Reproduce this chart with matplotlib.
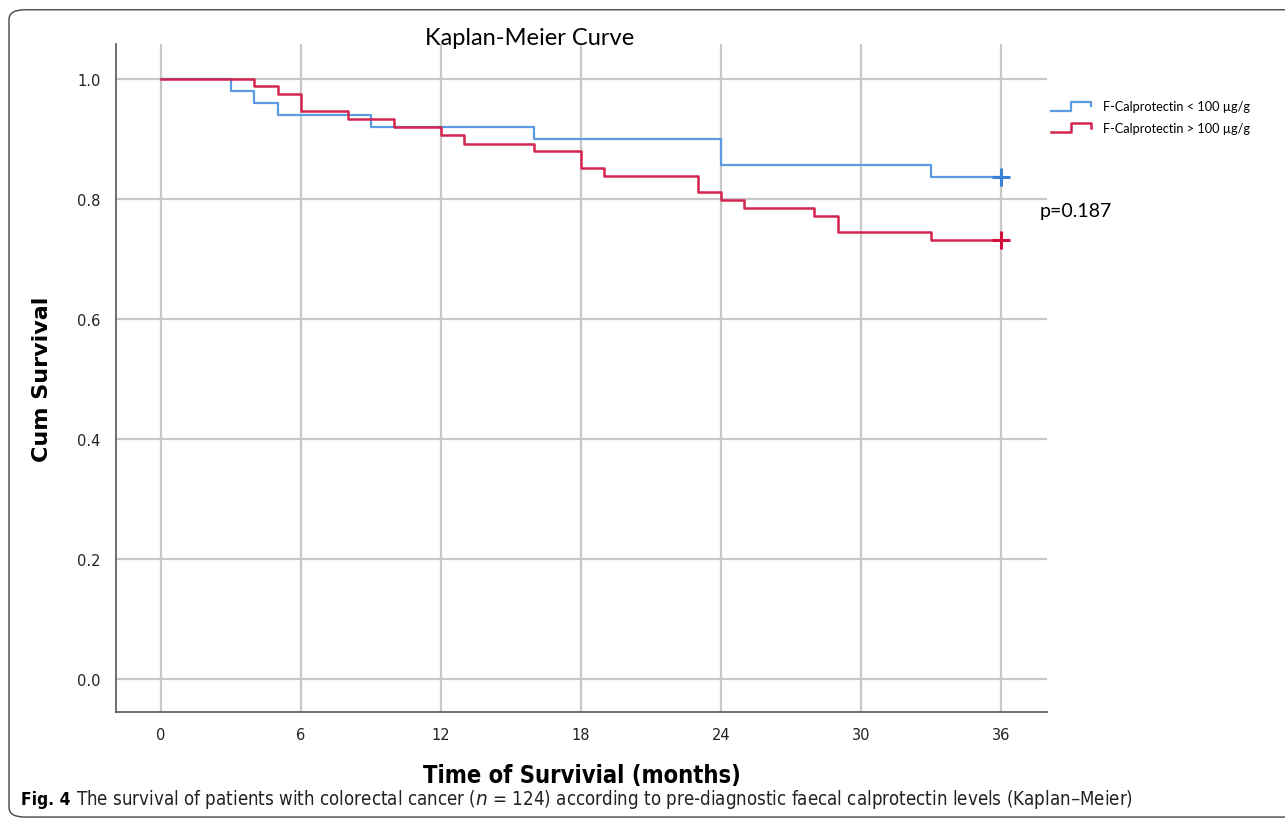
import matplotlib
matplotlib.use("Agg")
import matplotlib.pyplot as plt
from matplotlib.lines import Line2D
from matplotlib.legend_handler import HandlerBase
from matplotlib.patches import FancyBboxPatch

# survival steps (months, cumulative survival)
low_t = [0, 3, 4, 5, 9, 16, 24, 33, 36]
low_s = [1.0, 0.980, 0.960, 0.940, 0.919, 0.899, 0.857, 0.837, 0.837]
high_t = [0, 4, 5, 6, 8, 10, 12, 13, 16, 18, 19, 23, 24, 25, 28, 29, 33, 36]
high_s = [1.0, 0.988, 0.974, 0.946, 0.933, 0.919, 0.906, 0.892, 0.879, 0.852,
          0.838, 0.811, 0.798, 0.784, 0.771, 0.744, 0.731, 0.731]
labels = ["F-Calprotectin < 100 µg/g", "F-Calprotectin > 100 µg/g"]
x_ticks = [0, 6, 12, 18, 24, 30, 36]
y_ticks = [0.0, 0.2, 0.4, 0.6, 0.8, 1.0]

BLUE = "#5B9BE3"
RED = "#D42450"
GRID = "#C8C8C8"
NARROW = ["DejaVu Sans Condensed", "DejaVu Sans"]


class StepHandler(HandlerBase):
    # legend key drawn as a small step, like SPSS does
    def create_artists(self, legend, orig, xd, yd, w, h, fontsize, trans):
        xs = [0, 0.5 * w, 0.5 * w, w, w]
        ys = [-0.1 * h, -0.1 * h, 0.9 * h, 0.9 * h, 0.4 * h]
        ln = Line2D(xs, ys, color=orig.get_color(), lw=orig.get_linewidth())
        ln.set_transform(trans)
        return [ln]


fig = plt.figure(figsize=(12.85, 8.28), dpi=100)
fig.patches.append(FancyBboxPatch((0.007, 0.012), 1.02, 0.975,
                                  boxstyle="round,pad=0,rounding_size=0.012",
                                  transform=fig.transFigure, fill=False,
                                  edgecolor="#444444", lw=1.0))

ax = fig.add_axes([0.0903, 0.1389, 0.7245, 0.8068])
ax.step(low_t, low_s, where="post", color=BLUE, lw=1.6, label=labels[0])
ax.step(high_t, high_s, where="post", color=RED, lw=1.8, label=labels[1])
ax.plot([low_t[-1]], [low_s[-1]], marker="+", ms=13, mew=2.2, color="#3A82D6")
ax.plot([high_t[-1]], [high_s[-1]], marker="+", ms=13, mew=2.2, color="#D0103A")

ax.set_xlim(-1.93, 37.97)
ax.set_ylim(-0.055, 1.058)
ax.set_xticks(x_ticks)
ax.set_yticks(y_ticks)
ax.set_yticklabels([f"{v:.1f}" for v in y_ticks])
ax.grid(True, color=GRID, lw=1.6)
ax.set_axisbelow(True)
ax.tick_params(length=0, labelsize=10.5, colors="#222222")
ax.tick_params(axis="y", pad=11)
ax.tick_params(axis="x", pad=11)
for s in ["top", "right"]:
    ax.spines[s].set_visible(False)
for s in ["left", "bottom"]:
    ax.spines[s].set_color("#555555")
    ax.spines[s].set_linewidth(1.2)

ax.set_ylabel("Cum Survival", fontsize=16, fontweight="bold", labelpad=18)
ax.set_xlabel("Time of Survivial (months)", fontsize=17, fontweight="bold",
              family=NARROW, fontstretch="condensed", labelpad=15)

fig.text(0.412, 0.953, "Kaplan-Meier Curve", fontsize=17, family="Lato",
         ha="center", va="center")
fig.text(0.809, 0.745, "p=0.187", fontsize=14, family="Lato", va="center")

handles = [Line2D([], [], color=BLUE, lw=1.6), Line2D([], [], color=RED, lw=1.8)]
fig.legend(handles, labels, loc="upper left", bbox_to_anchor=(0.809, 0.892),
           frameon=False, prop={"family": "Lato", "size": 9.2},
           handlelength=3.1, handletextpad=1.0,
           labelspacing=0.75, handler_map={Line2D: StepHandler()})

fig.text(0.016, 0.034, "Fig. 4", fontsize=12.5, fontweight="bold", family=NARROW,
         fontstretch="condensed", va="center")
fig.text(0.059, 0.034,
         "The survival of patients with colorectal cancer ($\\it{n}$ = 124) according to "
         "pre-diagnostic faecal calprotectin levels (Kaplan–Meier)",
         fontsize=13.4, family=NARROW, fontstretch="condensed", va="center",
         color="#222222")

fig.savefig("out.png", dpi=100)
